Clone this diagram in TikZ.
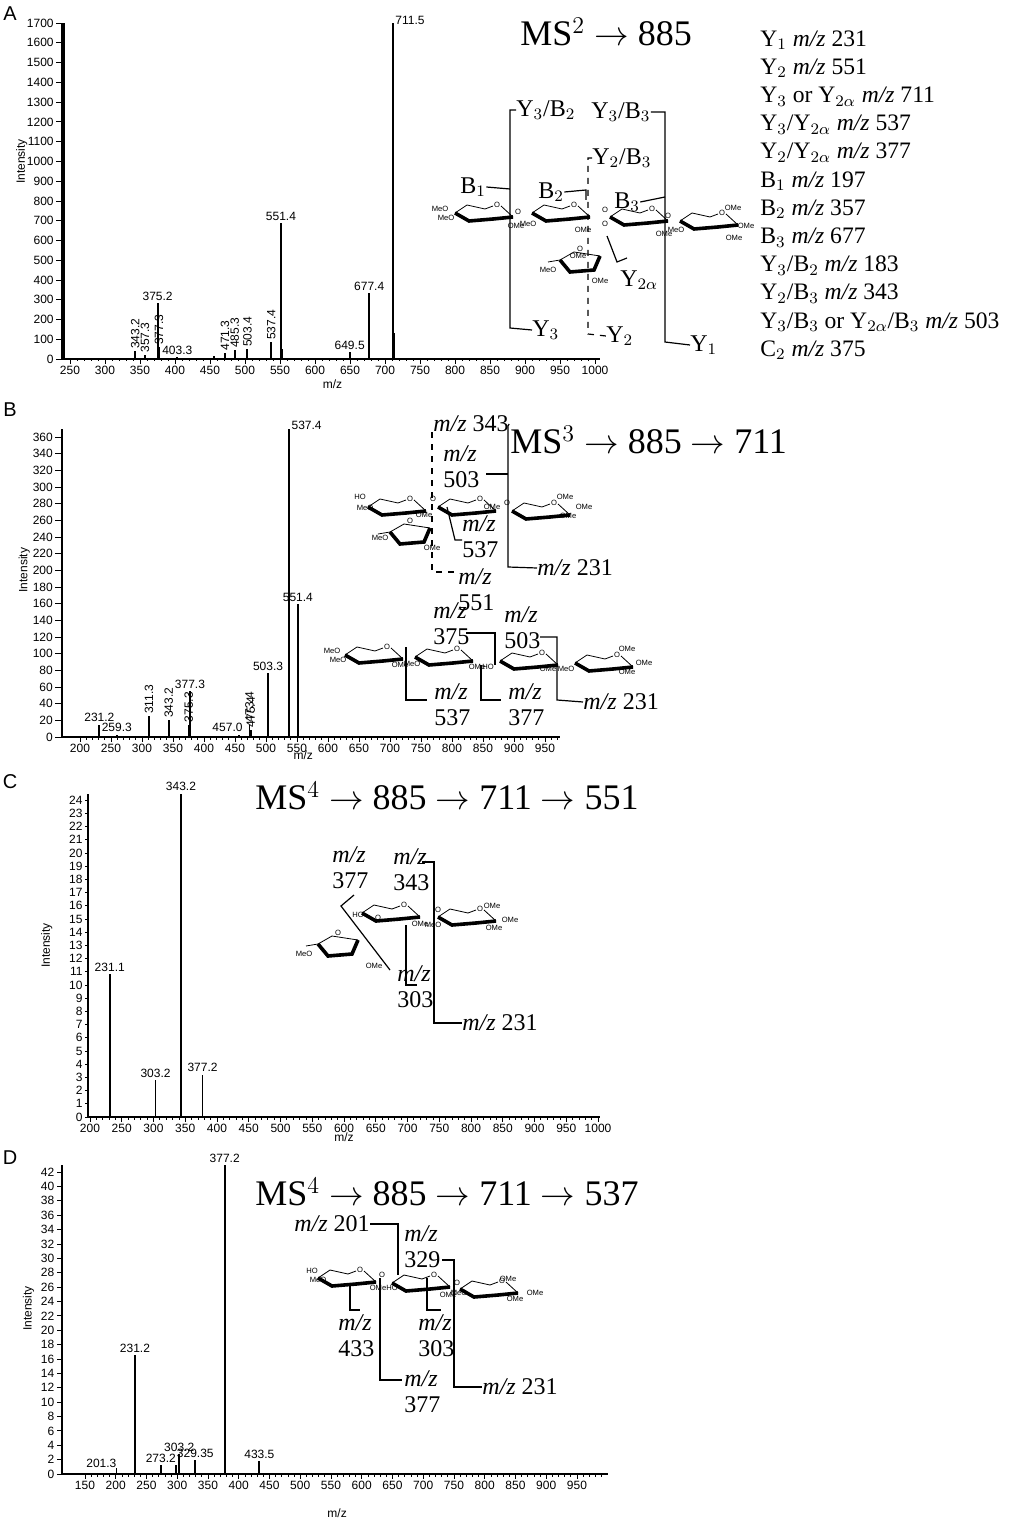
\documentclass[tikz,border=0pt]{standalone}
\usepackage{fontspec}
\setmainfont{Liberation Serif}
\newfontfamily\axfont{Liberation Sans}
\usetikzlibrary{arrows.meta}

\tikzset{
  ticklbl/.style={font=\axfont\fontsize{6}{6}\selectfont, inner sep=1pt},
  pklbl/.style={font=\axfont\fontsize{6}{6}\selectfont, inner sep=1pt},
  pk/.style={line width=0.9pt},
  axisline/.style={line width=0.9pt},
  frag/.style={font=\fontsize{12}{12}\selectfont, inner sep=0pt, anchor=west},
  fragtwo/.style={font=\fontsize{12}{13}\selectfont, inner sep=0pt, align=left, anchor=west},
  title/.style={font=\fontsize{18}{18}\selectfont, inner sep=0pt, anchor=west},
  listtxt/.style={font=\fontsize{11.8}{14.1}\selectfont, inner sep=0pt, anchor=west},
  brk/.style={line width=0.6pt},
  chem/.style={font=\axfont\fontsize{3.8}{4}\selectfont, inner sep=0pt},
  panel/.style={font=\axfont\fontsize{10}{10}\selectfont, inner sep=0pt},
  chair/.pic={
    \draw[line width=0.4pt] (0,10) -- (12,2) -- (30,6) -- (38,3);
    \draw[line width=0.4pt] (46,3) -- (58,14);
    \node[chem] at (42,2) {O};
    \draw[line width=1.8pt] (0,10) -- (14,18) -- (38,16) -- (58,14);
  },
  furan/.pic={
    \draw[line width=0.4pt] (0,8) -- (14,0) -- (40,4);
    \node[chem] at (20,-3) {O};
    \draw[line width=1.8pt] (0,8) -- (10,20) -- (34,18) -- (40,4);
    \draw[line width=0.4pt] (0,8) -- (-12,10);
  }
}
\newcommand{\mz}{\textit{m/z}}

\begin{document}
\begin{tikzpicture}[x=0.5pt,y=-0.5pt]
\useasboundingbox (0,0) rectangle (1024,1518);

% ---------- Panel A ----------
\node[panel] (pA) at (10,14) {A};
\begin{scope}[shift={(-105,359)},x=0.35pt,y=0.0988pt]
\draw[axisline] (238.6,0) -- (1007,0);
\draw[line width=2.2pt] (240,0) -- (240,1700);
\foreach \m in {250,260,...,1000} \draw (\m,0) -- (\m,-12);
\foreach \m in {250,300,...,1000} \draw (\m,0) -- (\m,-25) node[below,ticklbl] {\m};
\foreach \i in {0,100,...,1700} \draw (238.6,\i) -- (230,\i) node[left,ticklbl] {\i};
\foreach \m/\i in {343.2/40,357.3/20,375.2/285,377.3/60,403.3/10,456/15,471.3/30,485.3/45,503.4/50,537.4/85,551.4/690,553/50,649.5/35,677.4/335,711.5/1700,713/130}
  \draw[pk] (\m,0) -- (\m,\i);
\foreach \m/\i in {343.2/40,357.3/20,377.3/60,471.3/30,485.3/45,503.4/50,537.4/85}
  \node[pklbl,rotate=90,anchor=west] at (\m,\i) {\m};
\foreach \m/\i in {375.2/285,403.3/10,551.4/690,649.5/35,677.4/335}
  \node[pklbl,anchor=south] at (\m,\i) {\m};
\node[pklbl,anchor=south west] at (711.5,1680) {711.5};
\node[ticklbl] (mzA) at (625,-130) {m/z};
\node[ticklbl,rotate=90] (intA) at (181,1000) {Intensity};
\end{scope}
\node[title] (tA) at (520,32) {MS$^2$ $\rightarrow$ 885};
\node[listtxt,anchor=north west,align=left] (listA) at (760,30) {%
Y$_1$ \mz{} 231\\ Y$_2$ \mz{} 551\\ Y$_3$ or Y$_{2\alpha}$ \mz{} 711\\ Y$_3$/Y$_{2\alpha}$ \mz{} 537\\
Y$_2$/Y$_{2\alpha}$ \mz{} 377\\ B$_1$ \mz{} 197\\ B$_2$ \mz{} 357\\ B$_3$ \mz{} 677\\ Y$_3$/B$_2$ \mz{} 183\\
Y$_2$/B$_3$ \mz{} 343\\ Y$_3$/B$_3$ or Y$_{2\alpha}$/B$_3$ \mz{} 503\\ C$_2$ \mz{} 375};
% structure A
\pic at (455,203) {chair};
\pic at (532,203) {chair};
\pic at (610,207) {chair};
\pic at (680,211) {chair};
\pic at (560,252) {furan};
\node[chem] at (440,209) {MeO};
\node[chem] at (446,218) {MeO};
\node[chem] at (516,226) {OMe};
\node[chem] at (528,224) {MeO};
\node[chem] at (518,212) {O};
\node[chem] at (583,230) {OMe};
\node[chem] at (605,210) {O};
\node[chem] at (605,224) {O};
\node[chem] at (664,234) {OMe};
\node[chem] at (676,230) {MeO};
\node[chem] at (668,216) {O};
\node[chem] at (733,208) {OMe};
\node[chem] at (746,226) {OMe};
\node[chem] at (734,238) {OMe};
\node[chem] at (548,270) {MeO};
\node[chem] at (600,281) {OMe};
\node[chem] at (578,256) {OMe};
\node[frag] (B1) at (460,187) {B$_1$};
\node[frag] (Y3B2) at (516,110) {Y$_3$/B$_2$};
\node[frag] (Y3B3) at (591,112) {Y$_3$/B$_3$};
\node[frag] (B2) at (538,192) {B$_2$};
\node[frag] (Y2B3) at (592,158) {Y$_2$/B$_3$};
\node[frag] (B3) at (614,202) {B$_3$};
\node[frag] (Y2a) at (620,280) {Y$_{2\alpha}$};
\node[frag] (Y3) at (532,330) {Y$_3$};
\node[frag] (Y2) at (606,336) {Y$_2$};
\node[frag] (Y1) at (690,345) {Y$_1$};
\draw[brk] (B1.east) -- (510,189) (Y3B2.west) -| (510,328) -- (Y3.west);
\draw[brk] (Y3B3.east) -| (665,342) -- (Y1.west);
\draw[brk] (B3.east) -- (665,197);
\draw[brk] (B2.east) -- (586,190) -- (586,200);
\draw[brk,dashed] (Y2B3.west) -| (588,334) -- (Y2.west);
\draw[brk] (607,236) -- (617,262) -- (627,258);

% ---------- Panel B ----------
\node[panel] (pB) at (10,410) {B};
\begin{scope}[shift={(-44,737)},x=0.31pt,y=0.4167pt]
\draw[axisline] (171,0) -- (974,0);
\draw[axisline] (171,0) -- (171,370);
\foreach \m in {200,210,...,970} \draw (\m,0) -- (\m,-3);
\foreach \m in {200,250,...,950} \draw (\m,0) -- (\m,-6) node[below,ticklbl] {\m};
\foreach \i in {0,20,...,360} \draw (171,\i) -- (160,\i) node[left,ticklbl] {\i};
\foreach \m/\i in {231.2/15,259.3/3,311.3/25,343.2/20,375.3/15,377.3/55,457.0/3,473.4/15,475.4/9,503.3/77,537.4/370,551.4/160}
  \draw[pk] (\m,0) -- (\m,\i);
\foreach \m/\i in {311.3/25,343.2/20,375.3/15,473.4/15,475.4/9}
  \node[pklbl,rotate=90,anchor=west] at (\m,\i) {\m};
\foreach \m/\i in {231.2/15,259.3/3,377.3/55,503.3/77,551.4/160}
  \node[pklbl,anchor=south] at (\m,\i) {\m};
\node[pklbl,anchor=south east] at (466,3) {457.0};
\node[pklbl,anchor=south west] at (537.4,366) {537.4};
\node[ticklbl] (mzB) at (560,-22) {m/z};
\node[ticklbl,rotate=90] (intB) at (110,200) {Intensity};
\end{scope}
\node[title] (tB) at (510,440) {MS$^3$ $\rightarrow$ 885 $\rightarrow$ 711};
% structure B upper
\pic at (368,497) {chair};
\pic at (438,497) {chair};
\pic at (512,501) {chair};
\pic at (390,524) {furan};
\node[chem] at (360,497) {HO};
\node[chem] at (365,508) {MeO};
\node[chem] at (424,515) {OMe};
\node[chem] at (433,499) {O};
\node[chem] at (492,507) {OMe};
\node[chem] at (507,503) {O};
\node[chem] at (565,497) {OMe};
\node[chem] at (584,507) {OMe};
\node[chem] at (568,516) {OMe};
\node[chem] at (380,538) {MeO};
\node[chem] at (432,548) {OMe};
\node[frag] (b343) at (433,424) {\mz{} 343};
\node[fragtwo] (b503) at (443,467) {\mz{}\\503};
\node[fragtwo] (b537) at (462,537) {\mz{}\\537};
\node[fragtwo] (b551) at (458,590) {\mz{}\\551};
\node[frag] (b231) at (537,568) {\mz{} 231};
\draw[brk,dashed] (432,432) -- (432,572) -- (455,572);
\draw[brk] (b343.east) -- (508,426) -- (508,567) -- (b231.west);
\draw[brk] (486,474) -- (508,474);
\draw[brk] (447,507) -- (455,540) -- (462,540);
% structure B lower
\pic at (345,645) {chair};
\pic at (415,647) {chair};
\pic at (500,651) {chair};
\pic at (575,653) {chair};
\node[chem] at (332,651) {MeO};
\node[chem] at (338,660) {MeO};
\node[chem] at (400,665) {OMe};
\node[chem] at (412,664) {MeO};
\node[chem] at (477,667) {OMe};
\node[chem] at (488,667) {HO};
\node[chem] at (548,669) {OMe};
\node[chem] at (566,669) {MeO};
\node[chem] at (627,649) {OMe};
\node[chem] at (644,663) {OMe};
\node[chem] at (627,672) {OMe};
\node[fragtwo] (b375) at (433,624) {\mz{}\\375};
\node[fragtwo] (b503l) at (504,628) {\mz{}\\503};
\node[fragtwo] (b537l) at (434,705) {\mz{}\\537};
\node[fragtwo] (b377l) at (508,705) {\mz{}\\377};
\node[frag] (b231l) at (583,702) {\mz{} 231};
\draw[brk] (406,647) -- (406,700) -- (427,700);
\draw[brk] (481,665) -- (481,700) -- (501,700);
\draw[brk] (466,633) -- (495,633) -- (495,665);
\draw[brk] (540,637) -- (557,637) -- (557,700) -- (b231l.west);

% ---------- Panel C ----------
\node[panel] (pC) at (10,782) {C};
\begin{scope}[shift={(-37,1117)},x=0.3175pt,y=6.6pt]
\draw[axisline] (197,0) -- (1003,0);
\draw[axisline] (197,0) -- (197,24.5);
\foreach \m in {200,210,...,1000} \draw (\m,0) -- (\m,-0.2);
\foreach \m in {200,250,...,1000} \draw (\m,0) -- (\m,-0.35) node[below,ticklbl] {\m};
\foreach \i in {0,1,...,24} \draw (197,\i) -- (192,\i) node[left,ticklbl] {\i};
\foreach \m/\i in {231.1/10.8,303.2/2.8,343.2/24.5,377.2/3.2}
  \draw[pk] (\m,0) -- (\m,\i) node[above,pklbl] {\m};
\node[ticklbl] (mzC) at (600,-1.5) {m/z};
\node[ticklbl,rotate=90] (intC) at (132,13) {Intensity};
\end{scope}
\node[title] (tC) at (255,796) {MS$^4$ $\rightarrow$ 885 $\rightarrow$ 711 $\rightarrow$ 551};
% structure C
\pic at (362,903) {chair};
\pic at (438,907) {chair};
\pic at (318,936) {furan};
\node[chem] at (358,915) {HO};
\node[chem] at (378,918) {O};
\node[chem] at (420,924) {OMe};
\node[chem] at (433,925) {MeO};
\node[chem] at (438,910) {O};
\node[chem] at (492,906) {OMe};
\node[chem] at (510,920) {OMe};
\node[chem] at (494,928) {OMe};
\node[chem] at (304,954) {MeO};
\node[chem] at (374,966) {OMe};
\node[fragtwo] (c377) at (332,868) {\mz{}\\377};
\node[fragtwo] (c343) at (393,870) {\mz{}\\343};
\node[fragtwo] (c303) at (397,987) {\mz{}\\303};
\node[frag] (c231) at (462,1023) {\mz{} 231};
\draw[brk] (354,895) -- (341,906) -- (390,970);
\draw[brk] (422,862) -- (434,862) -- (434,1023) -- (c231.west);
\draw[brk] (406,925) -- (406,985) -- (417,985);

% ---------- Panel D ----------
\node[panel] (pD) at (10,1158) {D};
\begin{scope}[shift={(-7.25,1474)},x=0.3075pt,y=3.595pt]
\draw[axisline] (112.6,0) -- (1000,0);
\draw[axisline] (112.6,0) -- (112.6,43);
\foreach \m in {150,160,...,990} \draw (\m,0) -- (\m,-0.4);
\foreach \m in {150,200,...,950} \draw (\m,0) -- (\m,-0.7) node[below,ticklbl] {\m};
\foreach \i in {0,2,...,42} \draw (112.6,\i) -- (104,\i) node[left,ticklbl] {\i};
\foreach \m/\i in {201.3/0.8,231.2/16.5,232/1,273.2/1.3,298/1.2,303.2/2.8,329.35/1.9,377.2/43,378/2,433.5/1.8}
  \draw[pk] (\m,0) -- (\m,\i);
\foreach \m/\i in {231.2/16.5,303.2/2.8,329.35/1.9,377.2/43,433.5/1.8,273.2/1.3}
  \node[pklbl,anchor=south] at (\m,\i) {\m};
\node[pklbl,anchor=south east] at (205,0.6) {201.3};
\node[ticklbl] (mzD) at (560,-5.5) {m/z};
\node[ticklbl,rotate=90] (intD) at (58,23) {Intensity};
\end{scope}
\node[title] (tD) at (255,1192) {MS$^4$ $\rightarrow$ 885 $\rightarrow$ 711 $\rightarrow$ 537};
% structure D
\pic at (318,1268) {chair};
\pic at (392,1273) {chair};
\pic at (460,1279) {chair};
\node[chem] at (312,1271) {HO};
\node[chem] at (318,1280) {MeO};
\node[chem] at (378,1288) {OMe};
\node[chem] at (382,1275) {O};
\node[chem] at (392,1288) {HO};
\node[chem] at (448,1295) {OMe};
\node[chem] at (459,1293) {MeO};
\node[chem] at (457,1283) {O};
\node[chem] at (508,1279) {OMe};
\node[chem] at (535,1293) {OMe};
\node[chem] at (515,1299) {OMe};
\node[frag] (d201) at (294,1224) {\mz{} 201};
\node[fragtwo] (d329) at (404,1247) {\mz{}\\329};
\node[fragtwo] (d433) at (338,1336) {\mz{}\\433};
\node[fragtwo] (d303) at (418,1336) {\mz{}\\303};
\node[fragtwo] (d377) at (404,1392) {\mz{}\\377};
\node[frag] (d231) at (482,1387) {\mz{} 231};
\draw[brk] (d201.east) -- (398,1224) -- (398,1275);
\draw[brk] (442,1260) -- (454,1260) -- (454,1387) -- (d231.west);
\draw[brk] (350,1285) -- (350,1310) -- (360,1310);
\draw[brk] (380,1278) -- (380,1380) -- (402,1380);
\draw[brk] (427,1278) -- (427,1310) -- (441,1310);
\end{tikzpicture}
\end{document}
